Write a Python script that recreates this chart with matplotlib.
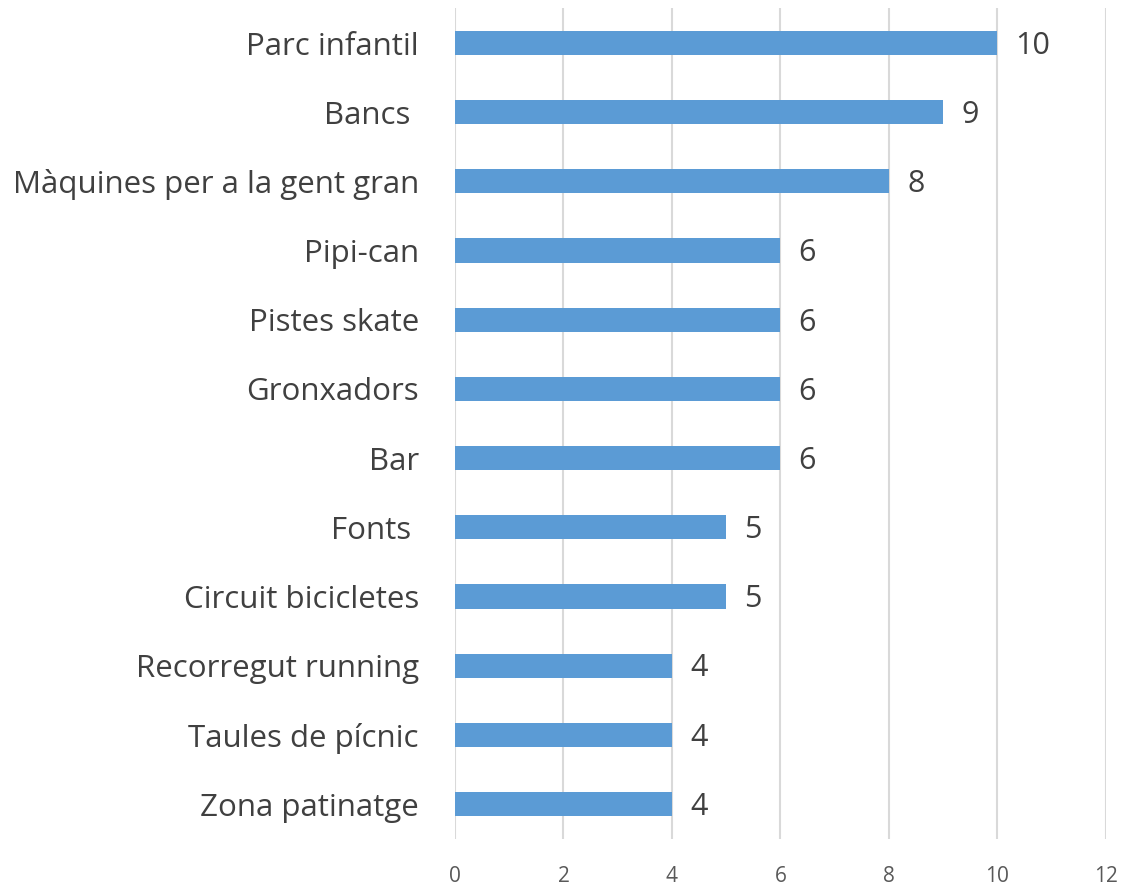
import matplotlib.pyplot as plt

plt.rcParams['font.family'] = ['Open Sans', 'DejaVu Sans']

# Data (top to bottom)
categories = ['Parc infantil', 'Bancs ', 'Màquines per a la gent gran', 'Pipi-can',
              'Pistes skate', 'Gronxadors', 'Bar', 'Fonts ', 'Circuit bicicletes',
              'Recorregut running', 'Taules de pícnic', 'Zona patinatge']
values = [10, 9, 8, 6, 6, 6, 6, 5, 5, 4, 4, 4]
xticks = [0, 2, 4, 6, 8, 10, 12]

fig = plt.figure(figsize=(11.22, 8.88), dpi=100)
ax = fig.add_axes([0.4055, 0.0556, 0.5802, 0.9349])

pos = list(range(len(categories)))
bars = ax.barh(pos, values, height=0.35, color='#5B9BD5', zorder=3)
for b, v in zip(bars, values):
    ax.annotate(str(v), (b.get_width(), b.get_y() + b.get_height() / 2),
                xytext=(13, -2), textcoords='offset points',
                ha='left', va='center', fontsize=22, color='#404040')

ax.set_ylim(len(categories) - 0.5, -0.5)
ax.set_xlim(0, 12)
ax.set_yticks(pos)
ax.set_yticklabels(categories, fontsize=22.5, color='#404040')
ax.set_xticks(xticks)
ax.set_xticklabels([str(t) for t in xticks], fontsize=15, color='#595959')
ax.tick_params(length=0)
ax.tick_params(axis='y', pad=26)
ax.tick_params(axis='x', pad=20)

ax.grid(axis='x', color='#D9D9D9', linewidth=1.5, zorder=0)
for s in ax.spines.values():
    s.set_visible(False)

fig.savefig('out.png', dpi=100)
